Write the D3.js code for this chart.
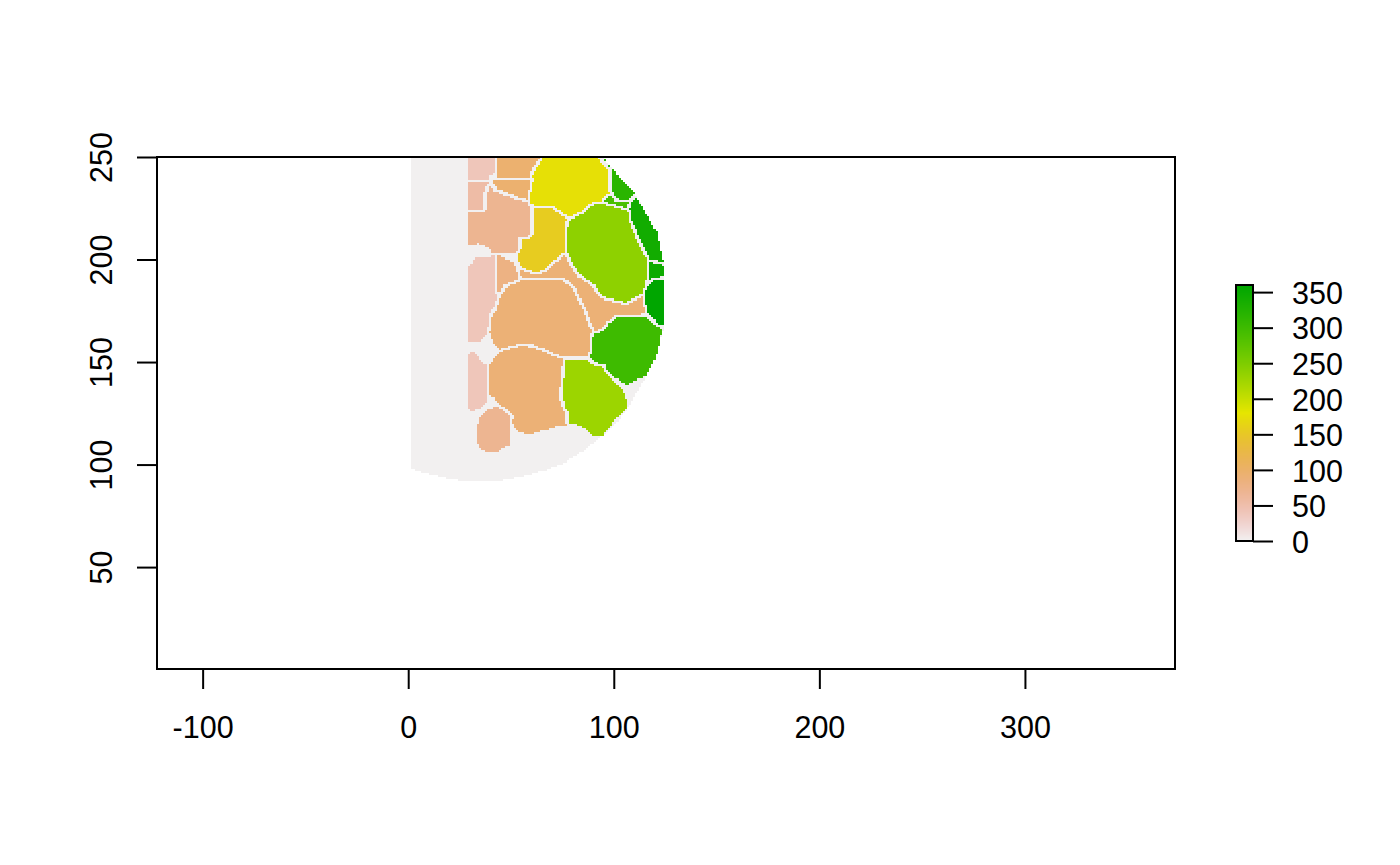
<!DOCTYPE html>
<html><head><meta charset="utf-8">
<script src="https://d3js.org/d3.v7.min.js"></script>
<style>html,body{margin:0;background:#fff}svg{display:block}text{font-family:"Liberation Sans",Arial,sans-serif;fill:#000}</style>
</head><body><svg id="c" width="1400" height="865"></svg>
<script>
const xTicks=[-100,0,100,200,300];
const yTicks=[50,100,150,200,250];
const legendTicks=[0,50,100,150,200,250,300,350];
const xLimits=[-122.2,373];
const yLimits=[0.3,250];
const colorLimits=[0,360];
const backgroundValue=1.5;
const outline=[[1.2,98.5],[5.6,96.8],[12.1,94.9],[20.2,93.2],[29.1,91.6],[41.3,91.6],[55.1,94.1],[65.6,97],[75.3,100.6],[83.5,105.4],[90.8,111.1],[99.7,118.5],[106.2,126.6],[115.1,142],[120,151],[122.4,160.7],[124,165.6],[124.8,175.4],[124.8,191.6],[124,198.9],[122.4,206.3],[120.8,213.6],[116.7,220.9],[110.2,232.3],[99.7,243.7],[94.8,250],[1.2,250]];
const regionValues=[40,55,70,95,95,175,155,90,80,40,90,300,228,90,40,70,318,318,290,341,345,360,238];
const regionShapes=[
[[29,252],[42.6,252],[42.6,242],[39,240.5],[39,238.5],[29,238.5]],
[[29,238.5],[39.3,238.5],[39.3,236],[37.7,231.5],[37.7,223.3],[29,223.3]],
[[29.1,223.3],[37.7,223.3],[37.7,231.5],[39.3,236.3],[41.3,236.3],[42.1,233.6],[47.8,231.5],[53,229],[58.3,228.2],[58.8,225.8],[60.7,222.5],[60.7,210.8],[54.3,209.8],[54,204.6],[52.6,202.7],[40.5,202.7],[39.7,205.4],[34,207.6],[29.9,206.6],[29.1,209.5]],
[[42.9,252],[66.5,252],[64,247],[60.7,242],[60.4,239.6],[42.9,239.6],[42.9,242]],
[[41.6,239.1],[60.4,239.1],[59,235],[58.3,228.2],[53,229],[47.8,231.5],[42.1,233.6],[41.3,236.3]],
[[67.2,252],[91.5,252],[96.5,244.5],[98,242.8],[98,232.3],[94,228.2],[89.1,225.8],[85.9,223.3],[78.6,220.1],[72.1,224.1],[68.9,226.1],[59.1,226.6],[60.4,238.8],[60.7,242],[64,246.9]],
[[60.4,225.4],[68.9,225.4],[77,219.7],[76.6,210.3],[76.2,203],[72.1,200.5],[67.2,195.7],[63.2,193.2],[56.7,195.2],[54.3,198.1],[52.6,202.2],[54.6,203.8],[54.6,209.8],[60.7,210.8]],
[[54.3,195.7],[56.7,194.5],[63.2,192.4],[68,195.2],[75.3,201.7],[77,201.4],[79.4,196.5],[83.4,190.8],[89.9,186.7],[93.2,181],[106.2,177.8],[114.3,181.9],[115.1,173.7],[102.9,172.4],[96.4,168.8],[94.8,164.8],[89.1,165.6],[85.9,175.4],[81,185.9],[75.3,190.3],[55,190.3]],
[[42.9,201.7],[45.3,201.7],[51,198.9],[53.4,192.4],[53.9,189.2],[47.8,187],[46.1,183.5],[42.9,183.5]],
[[29.1,195.7],[32.4,200.6],[42.1,201.7],[42.1,183.5],[43.7,182.7],[42.1,177.8],[39.7,173.7],[39.3,172.1],[38.8,164],[34.8,159.9],[29.1,159.9]],
[[55.1,189.7],[75.3,189.7],[80.2,185.9],[85.1,175.4],[89.1,164.8],[88.3,155],[86.7,152.6],[75.3,152.6],[70.5,153.4],[65.6,156.7],[60.7,158.8],[54.3,158.8],[49.4,157.2],[44.5,155.9],[42.1,158.3],[39.7,164],[40,170.5],[42.9,175.4],[47,186.7]],
[[89.9,164],[94.8,164.8],[98,168.9],[102.9,172.4],[115.1,172.4],[123.2,165.3],[122.4,160.7],[120,151],[116.7,143.7],[112.6,142],[106.2,138.8],[99.7,142.8],[94,148.5],[88.3,151.8],[88.8,154.2]],
[[76.2,151.3],[85.9,151.3],[89.9,148.5],[94.8,147.7],[95.6,145.3],[103.7,137.6],[105.8,132.3],[106.2,127.4],[101.3,122.5],[94.8,114.4],[90.8,113.6],[83.5,119.3],[77.8,120.4],[77.8,125.8],[75.3,128.2],[74.2,134.7],[75.3,138],[75.3,142],[75.7,146.1]],
[[39.3,148.5],[44.5,155],[49.4,156.7],[55.1,157.8],[60.7,157.2],[65.6,155.5],[70.5,152.9],[75.3,151.8],[75,142],[73.7,136.3],[75.3,126.6],[77,125],[77,119.3],[72.1,118.8],[67.2,117.2],[59.1,114.9],[54.3,116],[51,119.3],[50.2,123.7],[46.1,127.4],[42.1,132.3],[39.3,134.7]],
[[29.1,152.6],[30.3,155.5],[32.4,154.6],[35.6,150.2],[38.4,148.5],[38.4,130.6],[34.8,127.4],[30.3,125.8],[29.1,128.2]],
[[42.9,127.9],[46.1,126.6],[49.9,122.5],[49.1,109.5],[42.9,105.8],[38.4,105.8],[34,108.6],[32.8,116],[34.8,123.3],[38.8,126.6]],
[[98,242],[99.7,243.7],[110.2,232.3],[107,229],[101.3,228.2],[100.5,232.3],[98,233.1]],
[[91.5,252],[97,252],[99.5,245],[96.5,244.5]],
[[97.7,231.5],[100.5,229],[101.3,227.7],[107,227.7],[106.2,223.8],[99.7,226.1],[94.8,227.4]],
[[110.7,230.6],[115.1,224.1],[120.8,213.6],[124,198.9],[116.7,200.6],[112.6,207.9],[108.6,218.4],[107.5,224.1],[108.6,227.4]],
[[117.2,198.9],[124.5,197.3],[124.8,192.4],[120,190.8],[116.7,186.7]],
[[120,189.7],[125,189.7],[125,172],[123.2,166.4],[115.9,175.4],[115.1,184.3],[116.7,186.7]],
[[77.8,218.4],[85.1,222.5],[89.9,226.6],[96.4,226.6],[107,223.3],[107.8,218.4],[111.8,208.7],[115.9,200.6],[115.9,187.6],[113.5,181.9],[106.2,178.6],[99.7,180.3],[93.2,181.9],[89.9,187.6],[83.4,191.6],[78.6,199],[77,206.3]]
];

const svg=d3.select("#c");
const plot={l:157,r:1175,t:157,b:669};
const x=d3.scaleLinear().domain(xLimits).range([plot.l,plot.r]);
const y=d3.scaleLinear().domain(yLimits).range([plot.b,plot.t]);
const hue=d3.scaleLinear().domain([0,180,360]).range([0,60,120]);
const sat=d3.scaleLinear().domain([0,180,360]).range([0,1,1]);
const bri=d3.scaleLinear().domain([0,180,360]).range([.95,.9,.65]);
function terrain(v){
  const h=hue(v)/60,s=sat(v),b=bri(v),i=Math.floor(h),f=h-i;
  const p=b*(1-s),q=b*(1-s*f),t=b*(1-s*(1-f));
  const m=[[b,t,p],[q,b,p],[p,b,t]][Math.min(i,2)];
  return d3.rgb(m[0]*255,m[1]*255,m[2]*255).formatHex();
}
// raster on a one-unit grid
const gx=d3.range(1.3,126,1), gy=d3.range(250,90,-1);
const grid=gy.map(yy=>gx.map(xx=>{
  const c=[xx+.5,yy-.5];
  if(!d3.polygonContains(outline,c)) return -2;
  for(let k=0;k<regionShapes.length;k++) if(d3.polygonContains(regionShapes[k],c)) return k;
  return -1;
}));
const out=grid.map((row,j)=>row.map((k,i)=>{
  if(k<0) return k;
  const r=row[i+1], d=grid[j+1]?grid[j+1][i]:-1, dr=grid[j+1]?grid[j+1][i+1]:-1, dl=grid[j+1]?grid[j+1][i-1]:-1;
  if([r,d,dr,dl].some(n=>n!==undefined&&n>=0&&n!==k)) return -1;
  return k;
}));
const sharp=v=>Math.round(v);
function cellsPath(test){
  const p=d3.path();
  out.forEach((row,j)=>{
    let i=0;
    while(i<row.length){
      if(!test(row[i])){i++;continue;}
      let e=i; while(e+1<row.length&&test(row[e+1])) e++;
      const x0=sharp(x(gx[i])),x1=sharp(x(gx[e]+1)),y0=sharp(y(gy[j])),y1=sharp(y(gy[j]-1));
      p.moveTo(x0,y0);p.lineTo(x1,y0);p.lineTo(x1,y1);p.lineTo(x0,y1);p.closePath();
      i=e+1;
    }
  });
  return p.toString();
}
const layer=svg.append("g").attr("shape-rendering","crispEdges");
layer.append("path").attr("d",cellsPath(k=>k===-1)).attr("fill",terrain(backgroundValue));
layer.selectAll("path.region").data(regionValues).join("path").attr("class","region")
  .attr("d",(v,k)=>cellsPath(c=>c===k)).attr("fill",v=>terrain(v));

const fs=30.5, lw=2, fmt=d=>String(d);
svg.append("rect").attr("x",plot.l).attr("y",plot.t).attr("width",plot.r-plot.l).attr("height",plot.b-plot.t)
  .attr("fill","none").attr("stroke","#000").attr("stroke-width",lw);
const style=(g)=>{g.attr("font-family",null);g.selectAll("line").attr("stroke","#000").attr("stroke-width",lw);
  g.selectAll("text").attr("font-size",fs);g.select(".domain").remove();};
svg.append("g").attr("transform",`translate(0,${plot.b})`)
  .call(d3.axisBottom(x).tickValues(xTicks).tickSize(20).tickSizeOuter(0).tickPadding(27).tickFormat(fmt)).call(style);
const ay=svg.append("g").attr("transform",`translate(${plot.l},0)`)
  .call(d3.axisLeft(y).tickValues(yTicks).tickSize(20).tickSizeOuter(0).tickFormat(fmt)).call(style);
ay.selectAll("text").attr("text-anchor","middle").attr("dy",0).attr("x",0).attr("y",0)
  .attr("transform",`translate(-45.5,0) rotate(-90)`);

// colour bar
const leg={l:1236,r:1253,t:285,b:541};
const cy=d3.scaleLinear().domain(colorLimits).range([leg.b,leg.t]);
const lv=d3.range(colorLimits[0],colorLimits[1],1.4);
svg.append("g").attr("shape-rendering","crispEdges").selectAll("rect").data(lv).join("rect")
  .attr("x",leg.l).attr("width",leg.r-leg.l).attr("y",d=>cy(d+1.4)).attr("height",d=>cy(d)-cy(d+1.4)+.6).attr("fill",d=>terrain(d));
svg.append("rect").attr("x",leg.l).attr("y",leg.t).attr("width",leg.r-leg.l).attr("height",leg.b-leg.t)
  .attr("fill","none").attr("stroke","#000").attr("stroke-width",lw);
const al=svg.append("g").attr("transform",`translate(${leg.r},0)`)
  .call(d3.axisRight(cy).tickValues(legendTicks).tickSize(20).tickSizeOuter(0).tickPadding(19).tickFormat(fmt)).call(style);
al.selectAll("text").attr("dy",".37em");
</script></body></html>
